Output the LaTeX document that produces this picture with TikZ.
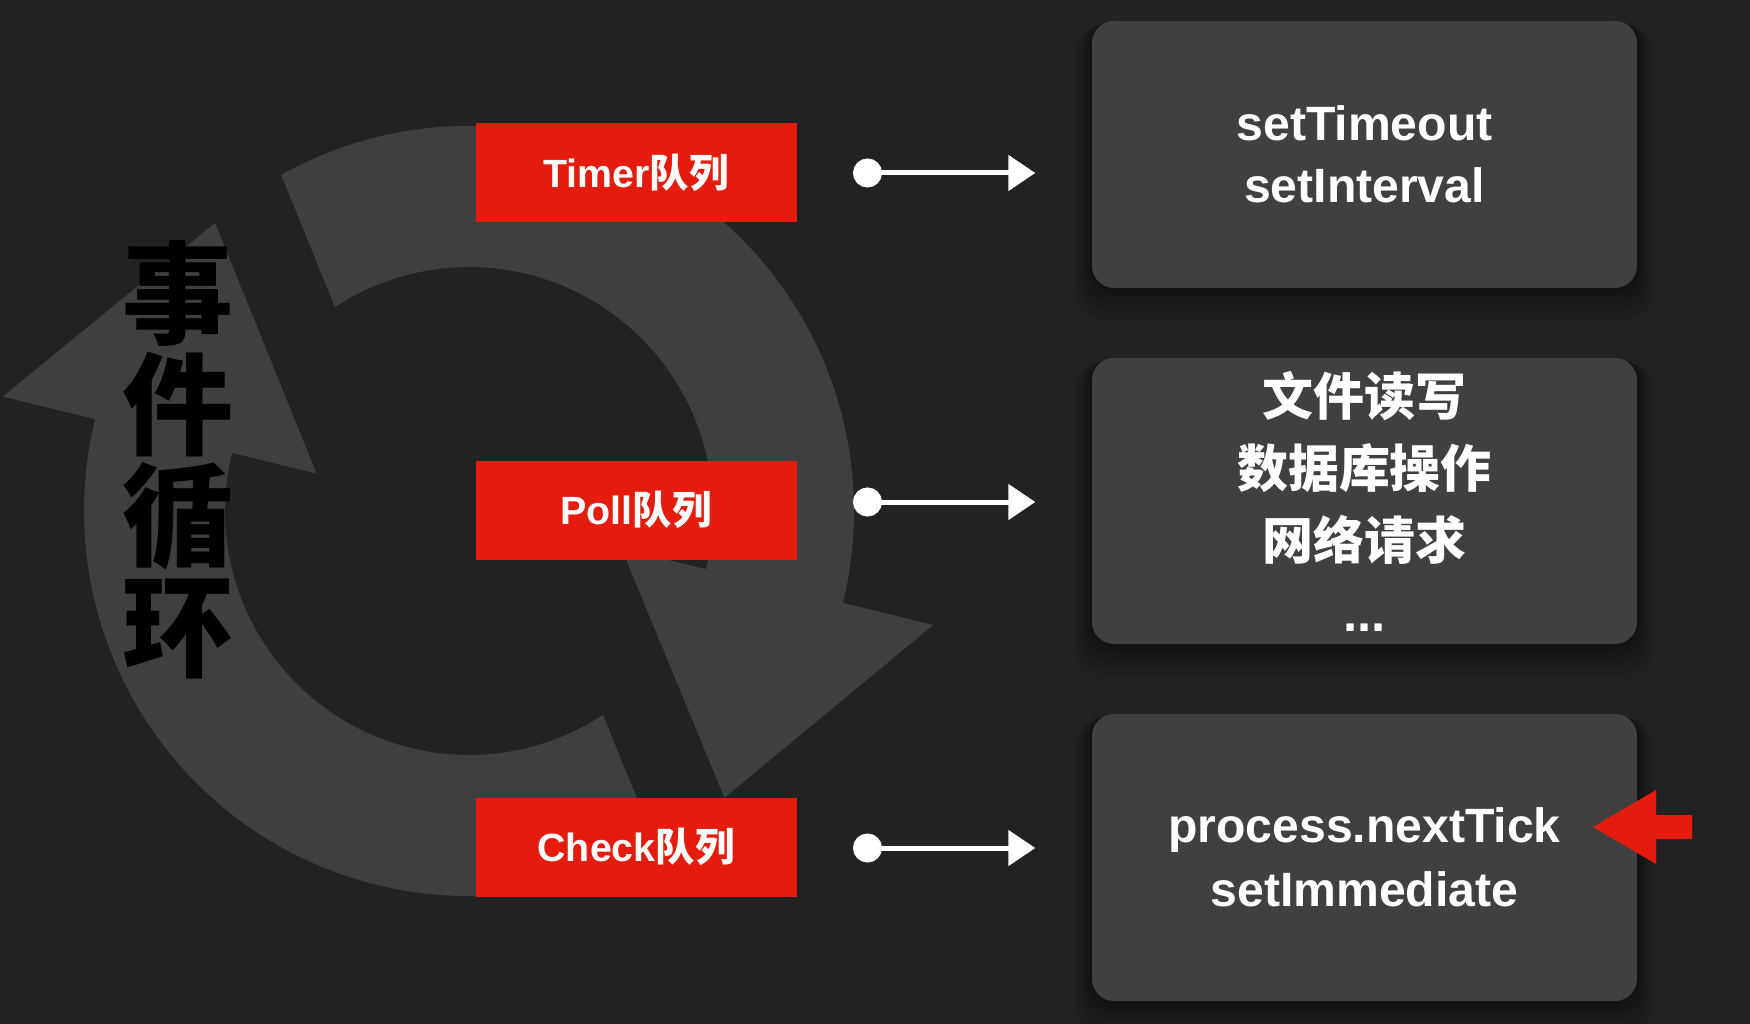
\documentclass[tikz,border=0pt]{standalone}
\usepackage{fontspec}
\setmainfont{Liberation Sans}
\newfontfamily\cjk{Noto Sans CJK SC}
\usetikzlibrary{arrows.meta,calc}
\definecolor{bg}{RGB}{34,34,34}
\definecolor{boxgray}{RGB}{64,64,64}
\definecolor{arcgray}{RGB}{63,63,63}
\definecolor{qred}{RGB}{228,28,14}
\tikzset{
  qbox/.style={fill=qred, minimum width=32.1mm, minimum height=9.9mm, inner sep=0pt,
    text=white, font=\fontsize{11.2}{12}\selectfont\bfseries},
  gbox/.style={fill=boxgray, rounded corners=2.2mm, minimum width=54.5mm, inner sep=0pt,
    align=center, text=white},
  latinfont/.style={font=\fontsize{13.7}{17.6}\selectfont\bfseries},
  dotarrow/.style={draw=white, line width=0.5mm,
    {Circle[length=2.9mm]}-{Triangle[length=2.7mm,width=3.5mm]},
    shorten <=5.7mm, shorten >=5.6mm},
}
\begin{document}
\begin{tikzpicture}[x=0.1mm,y=-0.1mm]
% background
\fill[bg] (0,0) rectangle (1750,1024);
\useasboundingbox (0,0) rectangle (1750,1024);

% circular arrows
\coordinate (C) at (469,511);
\fill[arcgray] ($(C)+(60.8:385)$) arc[start angle=60.8, end angle=193.8, radius=385]
  -- ($(C)+(193.8:480)$) -- ($(C)+(228.6:384)$) -- ($(C)+(193.8:157)$)
  -- ($(C)+(193.8:244)$) arc[start angle=193.8, end angle=56.7, radius=244] -- cycle;
\fill[arcgray] ($(C)+(240.8:385)$) arc[start angle=240.8, end angle=373.8, radius=385]
  -- ($(C)+(373.8:478)$) -- ($(C)+(408.3:384)$) -- ($(C)+(373.8:157)$)
  -- ($(C)+(373.8:244)$) arc[start angle=373.8, end angle=236.7, radius=244] -- cycle;

% title
\node[text=black, align=center, inner sep=0pt,
  font=\cjk\bfseries\fontsize{31.6}{31.6}\selectfont] (title) at (178,460)
  {事\\件\\循\\环};

% queue boxes
\node[qbox] (timer) at (636,173) {Timer{\cjk\bfseries 队列}};
\node[qbox] (poll)  at (636,510) {Poll{\cjk\bfseries 队列}};
\node[qbox] (check) at (636,847) {Check{\cjk\bfseries 队列}};

% shadows of gray boxes
\foreach \a/\b/\c/\d in {1092/21/1637/288, 1092/358/1637/644, 1092/714/1637/1001}{
  \foreach \i in {1,...,8}{
    \fill[black, opacity=0.05, rounded corners=2.6mm]
      (\a-\i*2, \b+\i*0.5) rectangle (\c+\i*2, \d+\i*4);
  }
}

% gray boxes
\node[gbox, latinfont, minimum height=26.7mm] (g1) at (1364.5,154.5)
  {setTimeout\\setInterval};
\node[gbox, minimum height=28.6mm, font=\cjk\bfseries\fontsize{14.5}{20.5}\selectfont] (g2) at (1364.5,501)
  {文件读写\\数据库操作\\网络请求\\{\rmfamily\bfseries ...}};
\node[gbox, minimum height=28.7mm, font=\fontsize{13.7}{18.2}\selectfont\bfseries] (g3) at (1364.5,857.5)
  {process.nextTick\\setImmediate};

% connectors
\coordinate (s1) at (796,173);
\coordinate (s2) at (796,502);
\coordinate (s3) at (796,848);
\draw[dotarrow] (s1) -- (s1 -| g1.west);
\draw[dotarrow] (s2) -- (s2 -| g2.west);
\draw[dotarrow] (s3) -- (s3 -| g3.west);

% red pointer arrow
\fill[qred] (1593,827) -- (1656,790) -- (1656,815) -- (1692,815) -- (1692,839)
  -- (1656,839) -- (1656,864) -- cycle;
\end{tikzpicture}
\end{document}
